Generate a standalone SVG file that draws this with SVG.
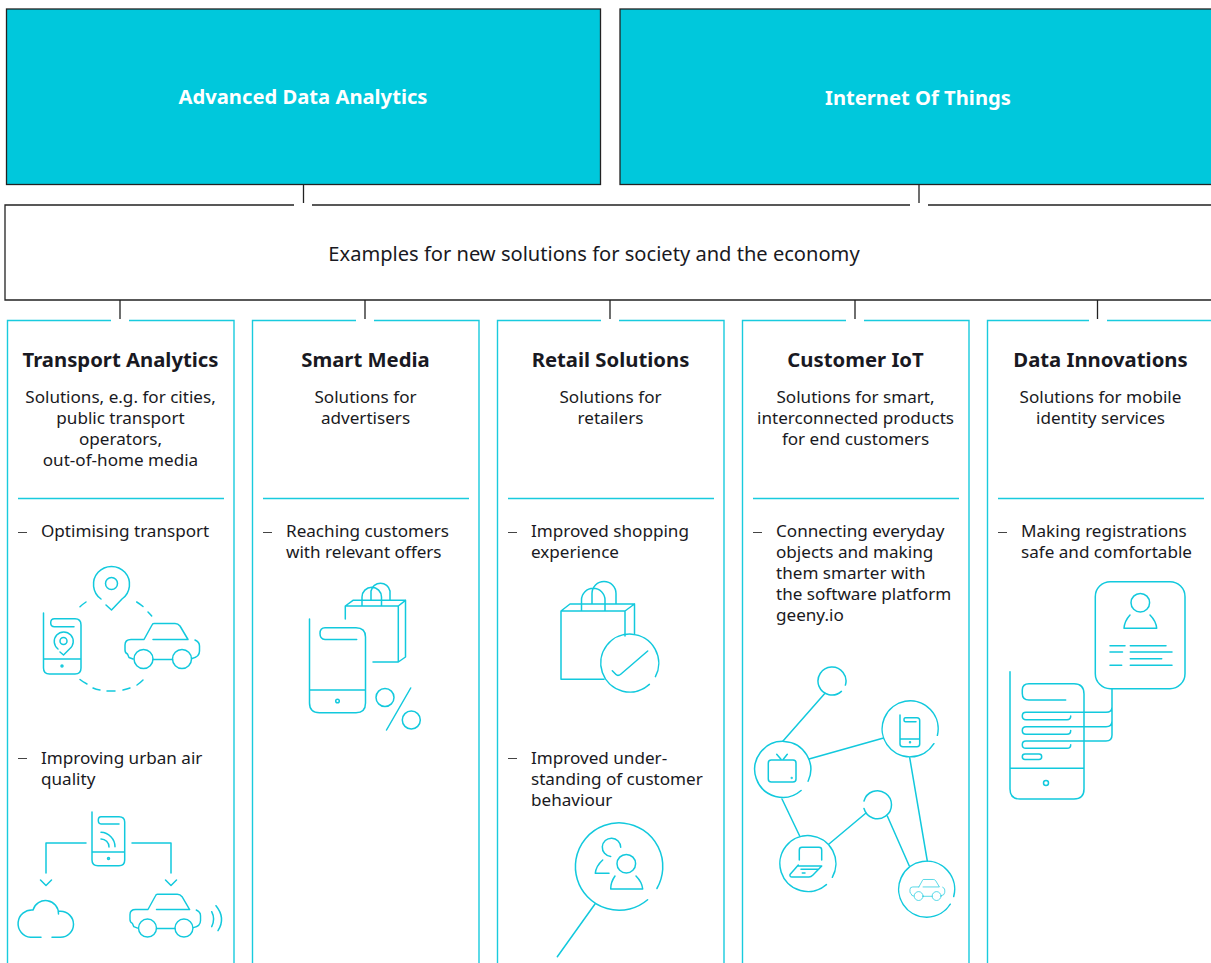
<svg xmlns="http://www.w3.org/2000/svg" width="1211" height="963" viewBox="0 0 1211 963">
<style>
text{font-family:"Noto Sans","Open Sans",sans-serif;fill:#191922;font-size:17.1px}
.h{font-weight:700;font-size:20.2px;fill:#fff;text-anchor:middle}
.t{font-weight:700;font-size:20.3px;text-anchor:middle}
.m{text-anchor:middle}
.x{font-size:20.1px}
.k{fill:none;stroke:#222;stroke-width:1.3}
.c{fill:none;stroke:#19cbde;stroke-width:1.4}
.i{fill:none;stroke:#12c9dd;stroke-width:1.5;stroke-linecap:round;stroke-linejoin:round}
.i *{vector-effect:non-scaling-stroke}
.d{stroke:#444;stroke-width:1;fill:none}
</style>
<defs>
<g id="car">
<path d="M144 639.5L152 625Q152.500 623.500 154 623.500H175Q178 623.500 180 626L188 639.500H153M144 639.500H131Q125 639.500 125 645V650Q125 653 127.500 654L129 657.500L133 659M153 659.500H172.500M195 640Q199.500 642 199.500 646V651Q199.500 657 192 658.500"/>
<circle cx="143.500" cy="659" r="9.500"/><circle cx="182" cy="659" r="9.500"/>
</g>
</defs>
<g id="box-analytics"><rect x="6.500" y="9" width="594" height="175.500" fill="#00c8dc" stroke="#222" stroke-width="1.300"/><text class="h" x="303" y="104">Advanced Data Analytics</text></g>
<g id="box-iot"><rect x="620" y="9" width="600" height="175.500" fill="#00c8dc" stroke="#222" stroke-width="1.300"/><text class="h" x="918" y="105">Internet Of Things</text></g>
<g id="box-examples"><path class="k" d="M294 205H5V300H1220M312 205H910M928 205H1220"/><text class="m x" x="594" y="261">Examples for new solutions for society and the economy</text></g>
<g id="connectors">
<path class="k" d="M303.500 185V203M919 185V203M120 300V319M365 300V319M610 300V319M855 300V319M1097.500 300V319"/>
</g>
<g id="card-transport">
<path class="c" d="M111 320.500H7.500V963M129 320.500H234V963"/>
<text class="t" x="120.500" y="367">Transport Analytics</text>
<text class="m" x="120.500" y="403">Solutions, e.g. for cities,</text><text class="m" x="120.500" y="424">public transport</text><text class="m" x="120.500" y="445">operators,</text><text class="m" x="120.500" y="466">out-of-home media</text>
<path class="c" d="M18 498.500H224"/>
<path class="d" d="M18 532.500H27"/><text x="41" y="537">Optimising transport</text>
<g class="i">
<path d="M101 599A18 18 0 1 1 122 599L111.500 610L106 605"/><circle cx="111.500" cy="583.500" r="6"/>
<path d="M80 606.700Q83 604 86 602M136.700 602Q140 604 143 606.500M148 612Q150 614 151.700 616M80 679.500Q83 682 87 684M93 688Q96 689.500 100 690M107 691H115M123 690Q127 689 130 688M137 685Q140 683 143 680"/>
<path d="M43.500 613V668Q43.500 674 49.500 674H75Q81 674 81 668V625Q81 618.700 75 618.700H54.500Q50.700 618.700 50.700 622.700T54.500 626.700H74M43.500 659H81"/><circle cx="62" cy="666" r="1" />
<path d="M58 649A9.500 9.500 0 1 1 69.500 649L63.500 655L60 652"/><circle cx="63.500" cy="641" r="3.500"/>
<use href="#car"/>
</g>
<path class="d" d="M18 758.500H27"/><text x="41" y="764">Improving urban air</text><text x="41" y="785">quality</text>
<g class="i">
<path d="M92 812V860Q92 865.700 98 865.700H119Q124.700 865.700 124.700 860V822Q124.700 816.700 119 816.700H101Q98.300 816.700 98.300 820.300T101 824H119M92 852H124.700"/><circle cx="108.500" cy="858.500" r="1"/>
<path d="M101 832.300A14.500 14.500 0 0 1 115 846.700M101 839A8 8 0 0 1 109 847M86 843H46V873M132 843H171V873M40.500 880L46 885.500L51.500 880M165.500 880L171 885.500L176.500 880"/>
<path d="M41 937.300H30.500A13.700 13.700 0 0 1 33 910A13 13 0 0 1 58.500 914M52 937.300H60.500A13 13 0 0 0 60.500 911.300H58.500"/>
<use href="#car" transform="translate(11.600 302) scale(.947 .95)"/>
<path d="M211.700 911.700Q215.500 919 211.700 926.700M216 905.700Q226 918 218 930.700"/>
</g>
</g>
<g id="card-media">
<path class="c" d="M356 320.500H252.500V963M374 320.500H479V963"/>
<text class="t" x="365.500" y="367">Smart Media</text>
<text class="m" x="365.500" y="403">Solutions for</text><text class="m" x="365.500" y="424">advertisers</text>
<path class="c" d="M263 498.500H469"/>
<path class="d" d="M263 532.500H272"/><text x="286" y="537">Reaching customers</text><text x="286" y="558">with relevant offers</text>
<g class="i">
<path d="M309.500 619V703Q309.500 712.700 319.500 712.700H356Q365.500 712.700 365.500 703V637Q365.500 627.700 356 627.700H325Q320 627.700 320 633.500T325 639.500H356.700M309.500 690H365.500"/><circle cx="337.500" cy="701" r="1.800"/>
<path d="M345.300 619V606H398.300V662H373M345.300 606L353 600.300H405.500V657L398.300 662M398.300 606L405.500 600.300M362 606V597A9.700 9.700 0 0 1 381.500 597V606M371 600V591A9.700 9.700 0 0 1 390 591V600"/>
<circle cx="385" cy="697.500" r="9"/><circle cx="411.300" cy="720" r="9"/><path d="M410.700 688L386.500 730"/>
</g>
</g>
<g id="card-retail">
<path class="c" d="M601 320.500H497.500V963M619 320.500H724V963"/>
<text class="t" x="610.500" y="367">Retail Solutions</text>
<text class="m" x="610.500" y="403">Solutions for</text><text class="m" x="610.500" y="424">retailers</text>
<path class="c" d="M508 498.500H714"/>
<path class="d" d="M508 532.500H517"/><text x="531" y="537">Improved shopping</text><text x="531" y="558">experience</text>
<g class="i">
<path d="M625 636V611H561V679.300H604M561 611L570 604H634.500V634M625 611L634.500 604M581.500 611V600A11.700 11.700 0 0 1 605 600V611M592 604V593.500A12 12 0 0 1 616 593.500V604"/>
<path d="M649.400 684.400A29 29 0 1 1 655.400 676.600M612.300 670.700L616 674.500Q618 676.500 621 674L647.700 651"/>
</g>
<path class="d" d="M508 758.500H517"/><text x="531" y="764">Improved under-</text><text x="531" y="785">standing of customer</text><text x="531" y="806">behaviour</text>
<g class="i">
<path d="M647.600 899.700A43.700 43.700 0 1 1 656.900 888.500M595 904L557.300 956.700"/>
<path d="M620.700 847.300A9.200 9.200 0 1 0 610.700 856.500M602.700 860Q596 866 595.300 873.300H609"/><circle cx="626.300" cy="863.700" r="9.300"/>
<path d="M615 876Q610.700 882 610.700 889H642.700Q642 882 636 876"/>
</g>
</g>
<g id="card-iot">
<path class="c" d="M846 320.500H742.500V963M864 320.500H969V963"/>
<text class="t" x="855.500" y="367">Customer IoT</text>
<text class="m" x="855.500" y="403">Solutions for smart,</text><text class="m" x="855.500" y="424">interconnected products</text><text class="m" x="855.500" y="445">for end customers</text>
<path class="c" d="M753 498.500H959"/>
<path class="d" d="M753 532.500H762"/><text x="776" y="537">Connecting everyday</text><text x="776" y="558">objects and making</text><text x="776" y="579">them smarter with</text><text x="776" y="600">the software platform</text><text x="776" y="621">geeny.io</text>
<g class="i">
<path d="M841.400 691.400A14 14 0 1 1 845.400 685.100M801.100 790.500A28 28 0 1 1 808.100 781.200M933.900 743.700A28 28 0 1 1 937.400 735.300M864 801A14 14 0 1 1 864 808.500M826.400 884.600A28 28 0 1 1 832.300 877.300M950.300 904.200A28 28 0 1 1 953.700 896.500"/>
<path d="M825 693.300L783 741M809 759L882.700 738.300M909.700 757.700L927.300 861M782 799L799.700 836M828.700 844.300L865.700 813.300M887.300 816L909.300 866"/>
<rect x="768.300" y="760" width="27.700" height="22" rx="3"/><path d="M776.700 754.300L781 759.300M787.300 754.300L783.300 759.300"/><circle cx="791.700" cy="778" r=".4"/>
<path d="M900 715V744Q900 746.700 903 746.700H917Q919.700 746.700 919.700 744V720.500Q919.700 717.700 917 717.700H905.500Q904 717.700 904 719.700T905.500 721.700H916M900 739H919.700"/><circle cx="910" cy="742.300" r=".5"/>
<path d="M799.300 860V850Q799.300 847.300 802 847.300H819Q821.700 847.300 821.700 850V860M798.300 865L790 874.500Q789.500 877 792 877H809Q811 877 813 875L821.700 866H798.300M801 869.300H818.300M802.300 873H805"/>
<use href="#car" transform="translate(851.600 588.300) scale(.467)"/>
</g>
</g>
<g id="card-data">
<path class="c" d="M1089 320.500H987.500V963M1107 320.500H1220"/>
<text class="t" x="1100.500" y="367">Data Innovations</text>
<text class="m" x="1100.500" y="403">Solutions for mobile</text><text class="m" x="1100.500" y="424">identity services</text>
<path class="c" d="M998 498.500H1204"/>
<path class="d" d="M998 532.500H1007"/><text x="1021" y="537">Making registrations</text><text x="1021" y="558">safe and comfortable</text>
<g class="i">
<rect x="1095.300" y="581.700" width="89.700" height="107" rx="15"/>
<circle cx="1140.300" cy="602.700" r="9.300"/><path d="M1130 615Q1124.500 621 1124 628.300H1156.700Q1156 621 1150 615"/>
<path d="M1110 645.700H1125M1110 652H1122.500M1110 665.300H1121.700M1130.300 645.700H1166M1130.300 652H1172M1130.300 658.700H1161.700M1130.300 665.300H1172"/>
<path d="M1010 671.700V789Q1010 799 1020 799H1074Q1084 799 1084 789V694Q1084 683.700 1074 683.700H1029Q1022.300 683.700 1022.300 690V693.500Q1022.300 700 1029 700H1065.700M1010 768.300H1084"/><circle cx="1046" cy="783" r="2.500"/>
<path d="M1112 688.700V707Q1112 712.300 1106 712.300H1026Q1022.300 712.300 1022.300 716T1026 719.700H1067Q1070.700 719.700 1070.700 716M1112 706V721Q1112 726.700 1106 726.700H1026Q1022.300 726.700 1022.300 730.500T1026 734.300H1067Q1070.700 734.300 1070.700 730.500M1112 720V735Q1112 741 1106 741H1026Q1022.300 741 1022.300 744.700T1026 748.300H1067Q1070.700 748.300 1070.700 744.700"/>
<rect x="1022.300" y="754" width="19.400" height="5.500" rx="2.700"/>
</g>
</g>
</svg>
